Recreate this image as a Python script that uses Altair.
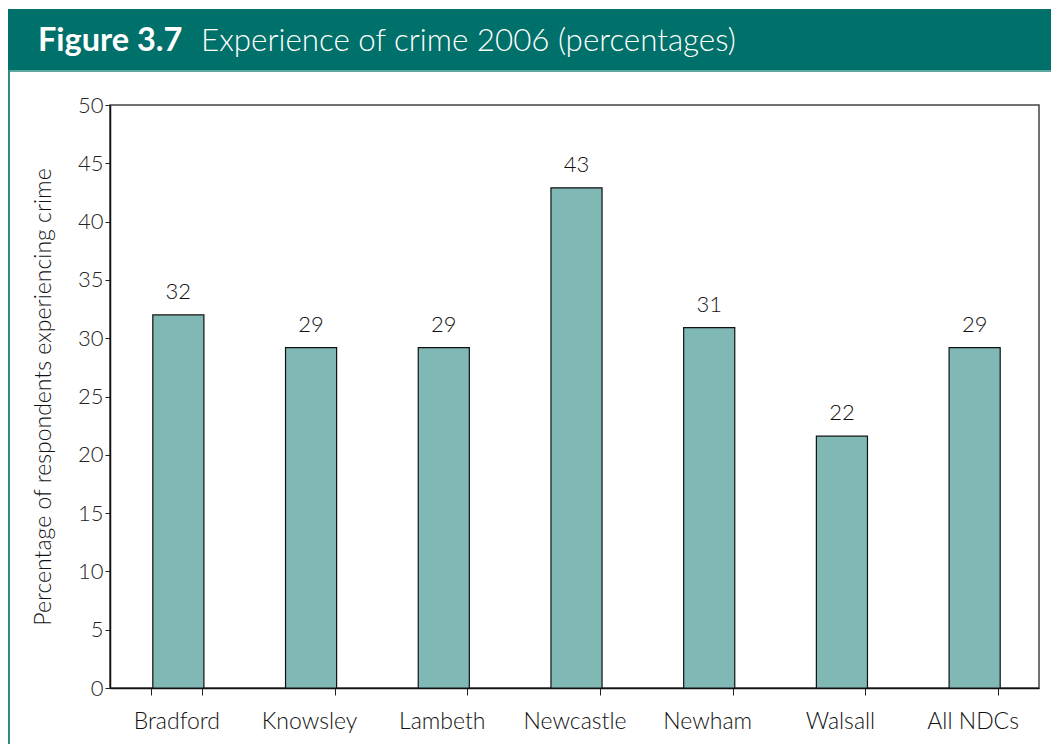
import altair as alt
import pandas as pd

areas = ["Bradford", "Knowsley", "Lambeth", "Newcastle", "Newham", "Walsall", "All NDCs"]
values = [32.0, 29.2, 29.2, 42.9, 30.9, 21.6, 29.2]

df = pd.DataFrame({"area": areas, "value": values})
one = pd.DataFrame({"k": [0]})

FONT = "Lato"
TEAL = "#00706A"
BAR = "#80B8B6"

W, H = 929, 583
PL, PT, PR, PB = 110, 105, 12, 56

x_enc = alt.X("area:N", sort=areas, title=None,
              scale=alt.Scale(paddingInner=0.615, paddingOuter=0.3075),
              axis=alt.Axis(labelAngle=0, labelFontSize=23, labelColor="#111",
                            labelFont=FONT, labelPadding=15, tickSize=7,
                            tickBand="extent", tickColor="#222", domainColor="#111",
                            domainWidth=1.5, labelFontWeight=300))
y_enc = alt.Y("value:Q", title="Percentage of respondents experiencing crime",
              scale=alt.Scale(domain=[0, 50], nice=False),
              axis=alt.Axis(values=list(range(0, 51, 5)), grid=False, tickSize=5,
                            labelFontSize=22, labelColor="#222", labelFont=FONT,
                            labelFontWeight=300, labelPadding=2, tickColor="#222",
                            domainColor="#111", domainWidth=1.5,
                            titleFont=FONT, titleFontSize=23, titleFontWeight=300,
                            titleColor="#111", titlePadding=22))

bars = alt.Chart(df).mark_bar(color=BAR, stroke="#111", strokeWidth=1.2, xOffset=2).encode(x=x_enc, y=y_enc)
labels = alt.Chart(df).mark_text(fontSize=22, font=FONT, fontWeight=300, color="#111",
                                 baseline="alphabetic", dy=-16, dx=2).encode(
    x=alt.X("area:N", sort=areas), y="value:Q", text=alt.Text("value:Q", format=".0f"))

header = alt.Chart(one).mark_rect(color=TEAL).encode(
    x=alt.value(-PL + 8), x2=alt.value(W + PR), y=alt.value(-PT + 9), y2=alt.value(-PT + 70))
header_line = alt.Chart(one).mark_rule(color="#5FA8A2", strokeWidth=2).encode(
    x=alt.value(-PL + 8), x2=alt.value(W + PR), y=alt.value(-PT + 71))
left_line = alt.Chart(one).mark_rule(color="#2A8C84", strokeWidth=2).encode(
    x=alt.value(-PL + 9), y=alt.value(-PT + 70), y2=alt.value(H + PB))
t1 = alt.Chart(one).mark_text(text="Figure 3.7", font=FONT, fontSize=32.5, fontWeight="bold",
                              color="white", align="left", baseline="alphabetic").encode(
    x=alt.value(-PL + 38), y=alt.value(-PT + 51))
t2 = alt.Chart(one).mark_text(text="Experience of crime 2006 (percentages)", font=FONT,
                              fontSize=31.3, fontWeight=300, color="white", align="left",
                              baseline="alphabetic").encode(
    x=alt.value(-PL + 201), y=alt.value(-PT + 51))

chart = alt.layer(header, header_line, left_line, t1, t2, bars, labels).properties(
    width=W, height=H, autosize=alt.AutoSizeParams(type="none"),
    padding={"left": PL, "top": PT, "right": PR, "bottom": PB},
    background="white",
).configure_view(stroke="#444", strokeWidth=1.5)

chart.save("out.html", embed_options={"renderer": "svg", "actions": False})
